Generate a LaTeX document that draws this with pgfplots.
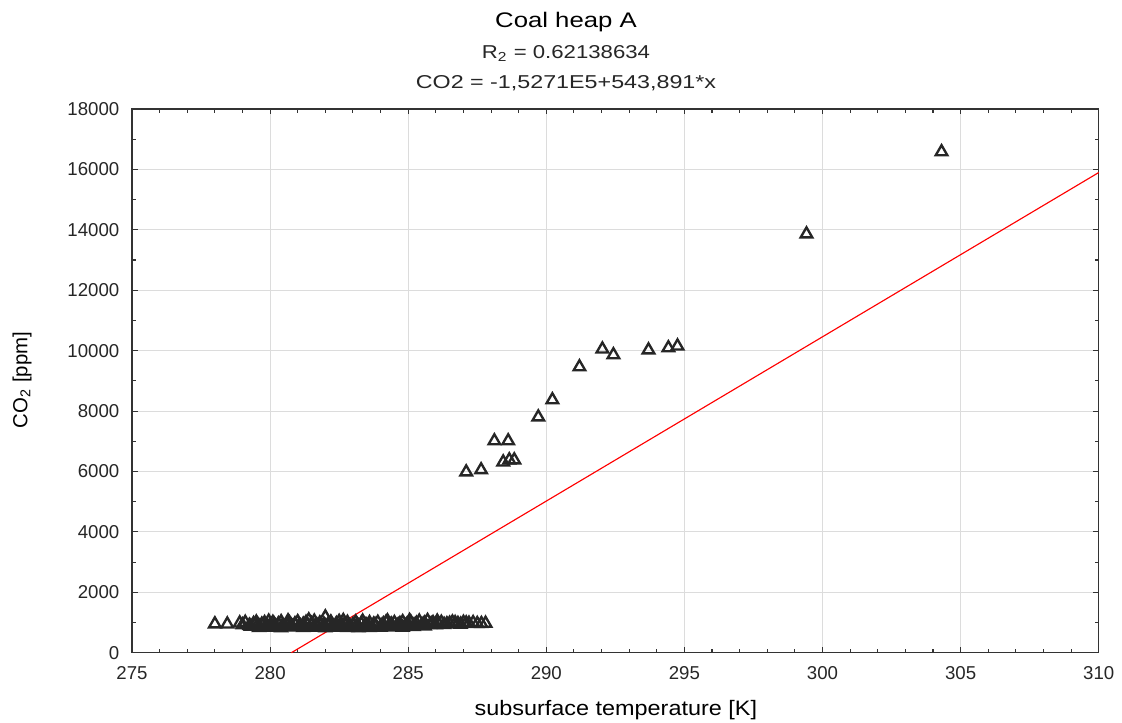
\documentclass[border=0pt]{standalone}
\usepackage{pgfplots}
\pgfplotsset{compat=1.18}
\usepackage{fontspec}
\setmainfont{Liberation Sans}
\definecolor{markgray}{HTML}{262626}
\definecolor{gridgray}{HTML}{DCDCDC}
\definecolor{axisgray}{HTML}{333333}
\definecolor{textgray}{HTML}{262626}

\begin{document}
\begin{tikzpicture}
\path[use as bounding box] (-2.64,-1.386) rectangle (19.8,13.054);
\begin{axis}[
  scale only axis,
  width=19.334cm, height=10.874cm,
  xmin=275, xmax=310, ymin=0, ymax=18000,
  xtick={275,280,...,310},
  ytick={0,2000,...,18000},
  minor x tick num=4, minor y tick num=1,
  major tick length=1.1mm, minor tick length=0.8mm,
  tick style={axisgray, line width=0.6pt},
  axis line style={axisgray, line width=0.7pt},
  grid=major,
  major grid style={gridgray, line width=0.6pt},
  scaled ticks=false,
  /pgf/number format/1000 sep={},
  /pgf/number format/assume math mode=true,
  tick label style={font=\fontsize{10.6}{12}\selectfont, text=textgray},
  xticklabel style={yshift=-1.6mm},
  yticklabel style={xshift=-1.3mm},
  xlabel={\scalebox{1.12}[1]{subsurface temperature [K]}},
  ylabel={CO\textsubscript{2} [ppm]},
  xlabel style={font=\fontsize{11.9}{13}\selectfont, at={(axis description cs:0.5005,-0.105)}, anchor=center},
  ylabel style={font=\fontsize{11.6}{13}\selectfont, at={(axis description cs:-0.1138,0.5015)}, anchor=center},
  clip=false,
]
\addplot[red, line width=0.65pt] coordinates {(280.77,0) (310,15896)};

\addplot[only marks, mark=triangle, mark size=3.8pt,
  mark options={draw=markgray, line width=1.35pt, fill=none}]
coordinates {
(278.0,950) (278.45,945) (278.9,980) (279.0,920) (279.1,1000) (279.3,870)
(279.4,960) (279.5,1010) (279.6,880) (279.7,940) (279.8,990) (279.9,860)
(280.0,920) (280.1,1000) (280.2,880) (280.3,950) (280.4,1020) (280.5,870)
(280.6,930) (280.7,990) (280.8,860) (280.9,950) (281.0,1020) (281.1,880)
(281.2,940) (281.3,1000) (281.4,1080) (281.5,960) (281.6,1040) (281.7,900)
(281.8,980) (282.0,1180) (282.0,880) (282.1,940) (282.2,1010) (282.3,870)
(282.4,960) (282.5,1030) (282.6,890) (282.7,950) (282.8,1000) (282.9,860)
(283.0,930) (283.1,1010) (283.2,880) (283.3,960) (283.4,840) (283.5,910)
(283.6,990) (283.7,850) (283.8,930) (283.9,1000) (284.0,870) (284.1,950)
(284.2,1010) (284.3,880) (284.4,940) (284.5,990) (284.6,900) (284.7,960)
(284.8,1020) (284.9,880) (285.0,950) (285.1,1000) (285.2,900) (285.3,970)
(285.4,1040) (285.5,920) (285.6,980) (285.7,1060) (285.8,930) (285.9,990)
(286.0,920) (286.2,1000) (286.4,950) (286.6,1010) (286.8,960) (287.0,1000)
(287.2,970) (287.5,960) (287.8,970)
(279.6,830) (280.0,840) (280.4,820) (280.8,850) (281.2,830) (281.6,840)
(282.0,820) (282.4,840) (282.8,830) (283.2,820) (283.6,830) (284.0,840)
(284.4,850) (284.8,840) (285.2,860) (285.6,880)
(279.25,900) (279.55,930) (279.85,910) (280.15,940) (280.45,900) (280.75,920)
(281.05,900) (281.35,930) (281.65,910) (281.95,940) (282.25,900) (282.55,920)
(282.85,900) (283.15,930) (283.45,910) (283.75,940) (284.05,900) (284.35,920)
(284.65,910) (284.95,930) (285.25,920) (285.55,940) (285.85,950) (286.1,960)
(286.3,930) (286.5,970) (286.7,990) (286.9,940) (287.1,980) (287.35,990)
(287.65,960) (286.05,1040) (285.05,1060) (284.25,1050) (283.35,1040)
(282.65,1060) (280.65,1050) (279.95,1040)
(287.10,5980) (287.64,6050) (288.12,7010) (288.62,7010) (288.44,6310)
(288.66,6380) (288.84,6380) (289.71,7800) (290.22,8370) (291.20,9460)
(292.03,10050) (292.43,9860) (293.70,10020) (294.42,10090) (294.75,10150)
(299.42,13860) (304.31,16580)
};
\end{axis}
\node[text=black, font=\fontsize{12}{14}\selectfont] at (8.68,12.61) {\scalebox{1.22}[1]{Coal heap A}};
\node[text=textgray, font=\fontsize{10.6}{12}\selectfont] at (8.68,11.99) {\scalebox{1.19}[1]{R\textsubscript{2} = 0.62138634}};
\node[text=textgray, font=\fontsize{10.6}{12}\selectfont] at (8.68,11.39) {\scalebox{1.25}[1]{CO2 = -1,5271E5+543,891*x}};
\end{tikzpicture}
\end{document}
